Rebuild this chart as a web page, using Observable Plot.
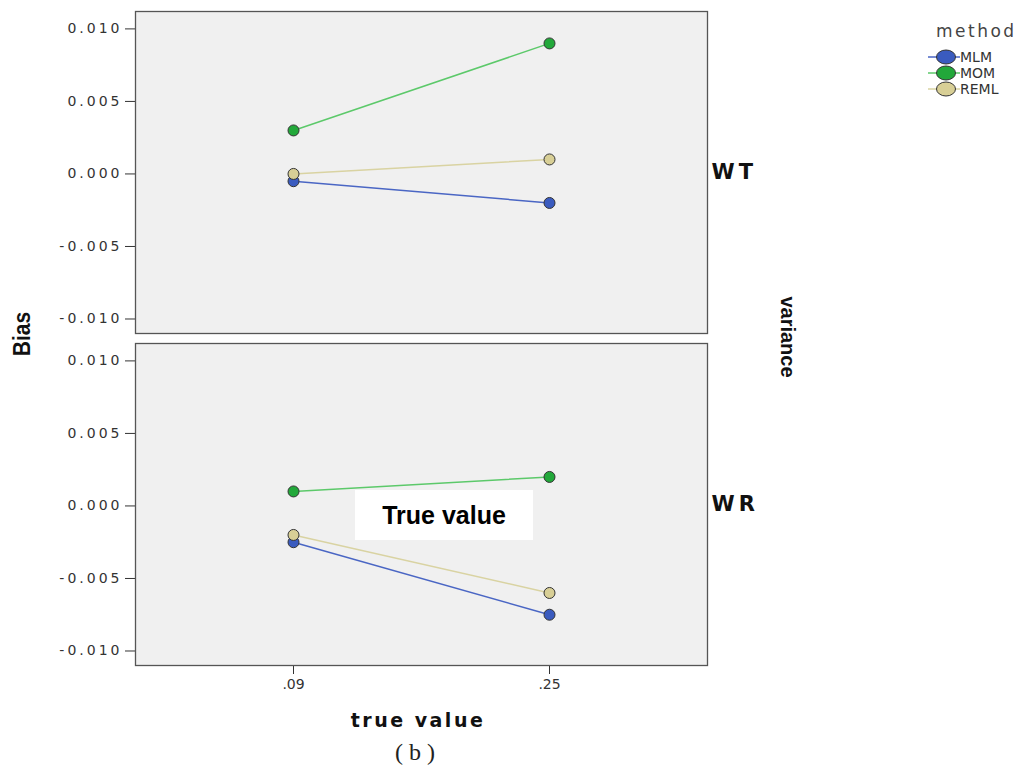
<!DOCTYPE html>
<html>
<head>
<meta charset="utf-8">
<script src="https://cdn.jsdelivr.net/npm/d3@7"></script>
<script src="https://cdn.jsdelivr.net/npm/@observablehq/plot@0.6"></script>
<style>
  body { margin: 0; background: #fff; }
  #wrap { position: relative; width: 1029px; height: 777px; overflow: hidden; }
  #wrap > svg.chart { position: absolute; left: 0; top: 0; }
  .ov { position: absolute; white-space: nowrap; transform: translate(-50%, -50%); line-height: 1; }
  [aria-label^="y-axis"] text { letter-spacing: 3px; font-size: 14px; }
  [aria-label^="x-axis"] text { font-size: 14px; }
  [aria-label^="fy-axis"] text { font-weight: bold; font-size: 21px; letter-spacing: 4px; fill: #111; }
</style>
</head>
<body>
<div id="wrap"></div>
<script>
// ---- data ----
const trueValues = [".09", ".25"];
const methods = ["MLM", "MOM", "REML"];
const variances = ["WT", "WR"];
const yTicks = [-0.010, -0.005, 0.000, 0.005, 0.010];

const biasWT_MLM  = [-0.0005, -0.0020];
const biasWT_MOM  = [ 0.0030,  0.0090];
const biasWT_REML = [ 0.0000,  0.0010];
const biasWR_MLM  = [-0.0025, -0.0075];
const biasWR_MOM  = [ 0.0010,  0.0020];
const biasWR_REML = [-0.0020, -0.0060];

const lineColors = ["#4a66c4", "#5cc96a", "#d9d3a2"];
const dotColors  = ["#3a5bbf", "#22a83a", "#d8cf96"];

// ---- build table ----
const series = {
  WT: { MLM: biasWT_MLM, MOM: biasWT_MOM, REML: biasWT_REML },
  WR: { MLM: biasWR_MLM, MOM: biasWR_MOM, REML: biasWR_REML }
};
const rows = [];
for (const v of variances)
  for (const m of methods)
    trueValues.forEach((tv, i) => rows.push({ variance: v, method: m, tv, bias: series[v][m][i] }));

const chart = Plot.plot({
  width: 1029,
  height: 700,
  marginLeft: 135,
  marginRight: 322,
  marginTop: 10,
  marginBottom: 34,
  style: { fontFamily: "DejaVu Sans", fontSize: "13px", color: "#333", background: "transparent" },
  x: { type: "point", domain: trueValues, padding: 0.615, label: null, tickSize: 9, tickPadding: 5 },
  y: { domain: [-0.011, 0.0112], ticks: yTicks, tickFormat: d => d.toFixed(3), label: null, tickSize: 10, tickPadding: 3 },
  fy: { domain: variances, paddingInner: 0.03, paddingOuter: 0, label: null, axis: "right", tickSize: 0, tickPadding: 4 },
  color: { domain: methods, range: lineColors },
  marks: [
    Plot.frame({ fill: "#f0f0f0" }),
    Plot.line(rows, { x: "tv", y: "bias", z: "method", stroke: "method", fy: "variance", strokeWidth: 1.5 }),
    ...methods.map((m, i) => Plot.dot(rows.filter(d => d.method === m), {
      x: "tv", y: "bias", fy: "variance", r: 5.5, fill: dotColors[i], stroke: "#333", strokeWidth: 1
    })),
    Plot.frame({ stroke: "#555", strokeWidth: 1.3 })
  ]
});
chart.classList.add("chart");

const wrap = document.getElementById("wrap");
wrap.appendChild(chart);

function overlay(text, x, y, css) {
  const d = document.createElement("div");
  d.className = "ov";
  d.textContent = text;
  d.style.left = x + "px";
  d.style.top = y + "px";
  Object.assign(d.style, css);
  wrap.appendChild(d);
  return d;
}

overlay("Bias", 22, 334, { font: "bold 24px 'Liberation Sans'", transform: "translate(-50%,-50%) rotate(-90deg) scaleX(0.88)", color: "#111" });
overlay("variance", 788, 337, { font: "bold 21px 'Liberation Sans'", transform: "translate(-50%,-50%) rotate(90deg) scaleX(0.95)", color: "#111" });
overlay("true value", 418, 720, { font: "bold 19px 'DejaVu Sans'", letterSpacing: "2.5px", color: "#111" });
overlay("(b)", 418, 752, { font: "24px 'Liberation Serif'", letterSpacing: "6px", color: "#222" });

// annotation box
const box = document.createElement("div");
Object.assign(box.style, {
  position: "absolute", left: "355px", top: "490px", width: "178px", height: "50px",
  background: "#fff", display: "flex", alignItems: "center", justifyContent: "center",
  font: "bold 25px 'Liberation Sans'", color: "#000"
});
box.textContent = "True value";
wrap.appendChild(box);

// legend
const ns = "http://www.w3.org/2000/svg";
const leg = document.createElementNS(ns, "svg");
leg.setAttribute("width", 105);
leg.setAttribute("height", 85);
leg.style.position = "absolute";
leg.style.left = "924px";
leg.style.top = "18px";
let html = `<text x="12" y="19" font-family="DejaVu Sans" font-size="17" letter-spacing="2.5" fill="#444">method</text>`;
methods.forEach((m, i) => {
  const cy = 39 + i * 16;
  html += `<line x1="4" x2="36" y1="${cy}" y2="${cy}" stroke="${lineColors[i]}" stroke-width="1.5"/>`;
  html += `<ellipse cx="22" cy="${cy}" rx="9.5" ry="7" fill="${dotColors[i]}" stroke="#333" stroke-width="1"/>`;
  html += `<text x="36" y="${cy + 5}" font-family="DejaVu Sans" font-size="14" fill="#333">${m}</text>`;
});
leg.innerHTML = html;
wrap.appendChild(leg);
</script>
</body>
</html>
